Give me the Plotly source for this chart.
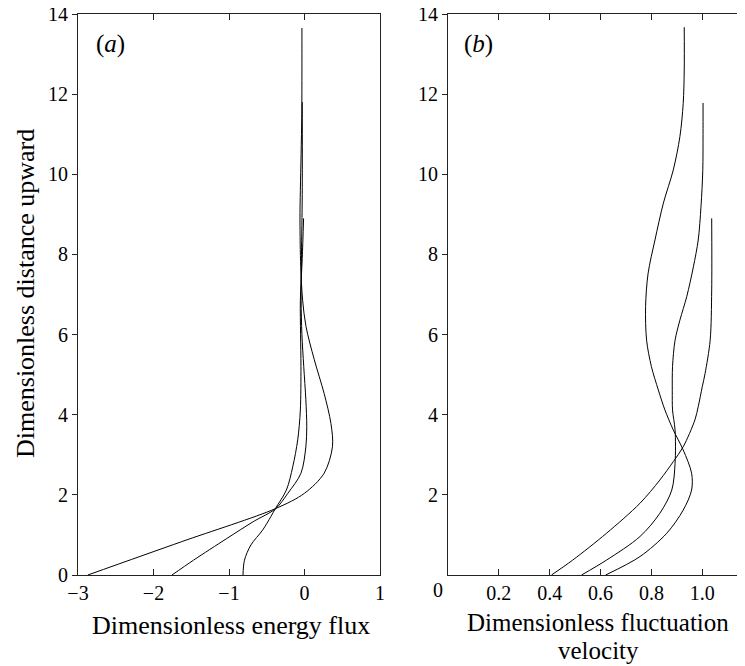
import plotly.graph_objects as go

# ---------------- data ----------------
# Panel (a): dimensionless energy flux (x) vs dimensionless distance upward (y)
a1_y = [0, 0.83, 1.66, 2.04, 2.54, 3.2, 3.78, 4.53, 5.37, 6.2, 6.86, 7.7, 8.86, 9.6, 10.5, 11.5, 12.6, 13.65]
a1_x = [-2.87, -1.63, -0.38, 0.0, 0.26, 0.37, 0.35, 0.26, 0.13, 0.02, -0.025, -0.05, -0.06, -0.055, -0.045, -0.036, -0.034, -0.034]
a2_y = [0, 0.37, 0.91, 1.33, 1.66, 2.04, 2.54, 3.2, 3.7, 4.37, 5.2, 6.03, 6.86, 8.0, 9.5, 11.8]
a2_x = [-1.755, -1.47, -1.03, -0.68, -0.38, -0.22, -0.047, 0.018, 0.03, 0.018, -0.01, -0.035, -0.045, -0.04, -0.03, -0.03]
a3_y = [0, 0.37, 0.75, 1.12, 1.46, 1.66, 2.12, 2.7, 3.37, 4.12, 5.2, 6.0, 6.86, 7.9, 8.9]
a3_x = [-0.815, -0.795, -0.71, -0.555, -0.445, -0.385, -0.24, -0.156, -0.09, -0.055, -0.047, -0.052, -0.055, -0.03, -0.012]

# Panel (b): dimensionless fluctuation velocity (x) vs dimensionless distance upward (y)
b1_y = [0, 0.37, 1.04, 1.79, 2.37, 2.83, 3.2, 3.87, 4.2, 4.7, 5.03, 5.86, 7.11, 8.9]
b1_x = [0.407, 0.49, 0.623, 0.755, 0.833, 0.886, 0.925, 0.971, 0.984, 1.0, 1.011, 1.031, 1.037, 1.037]
b2_y = [0, 0.37, 0.96, 1.54, 2.12, 2.79, 3.62, 4.12, 4.6, 5.2, 5.86, 6.36, 6.95, 7.69, 8.36, 9.2, 10.1, 11.0, 11.78]
b2_x = [0.525, 0.623, 0.755, 0.833, 0.88, 0.893, 0.893, 0.883, 0.882, 0.883, 0.893, 0.912, 0.939, 0.965, 0.984, 0.995, 1.002, 1.003, 1.003]
b3_y = [0, 0.46, 1.04, 1.62, 2.12, 2.54, 3.12, 3.62, 4.12, 4.62, 5.2, 5.86, 6.7, 7.53, 8.36, 9.28, 10.11, 10.94, 11.77, 12.6, 13.67]
b3_x = [0.62, 0.755, 0.86, 0.925, 0.958, 0.958, 0.925, 0.886, 0.853, 0.827, 0.80, 0.781, 0.777, 0.787, 0.814, 0.847, 0.886, 0.912, 0.925, 0.929, 0.929]

a_xticks = [-3, -2, -1, 0, 1]
a_xticktext = ["\u22123", "\u22122", "\u22121", "0", "1"]
b_xticks = [0, 0.2, 0.4, 0.6, 0.8, 1.0]
b_xticktext = ["", "0.2", "0.4", "0.6", "0.8", "1.0"]
y_ticks_a = [0, 2, 4, 6, 8, 10, 12, 14]
y_ticks_b = [2, 4, 6, 8, 10, 12, 14]
y_ticks_right = [2, 4, 6, 8, 10, 12]

FONT = "Liberation Serif, 'Times New Roman', Times, serif"
LINE = dict(color="black", width=1)

fig = go.Figure()
for xs, ys in [(a1_x, a1_y), (a2_x, a2_y), (a3_x, a3_y)]:
    fig.add_trace(go.Scatter(x=xs, y=ys, mode="lines", line=dict(shape="spline", smoothing=0.9, **LINE),
                             xaxis="x", yaxis="y", showlegend=False, hoverinfo="skip"))
for xs, ys in [(b1_x, b1_y), (b2_x, b2_y), (b3_x, b3_y)]:
    fig.add_trace(go.Scatter(x=xs, y=ys, mode="lines", line=dict(shape="spline", smoothing=0.9, **LINE),
                             xaxis="x2", yaxis="y2", showlegend=False, hoverinfo="skip"))

# The page body has an 8px default margin, so the figure is drawn 8px in from the window corner.
OFF = 8
W, H = 745 - OFF, 666 - OFF


def px(xp):
    return (xp - OFF) / W


def py(yp):
    return (H - (yp - OFF)) / H


dom_a = [px(78), px(380)]
dom_b = [px(448), 1.0]
dom_y = [py(575), py(14)]

TICKFONT = dict(family=FONT, size=20, color="black")
axis_common = dict(showgrid=False, zeroline=False, showline=True, linecolor="#222", linewidth=1.2,
                   tickcolor="#222", tickwidth=1, tickfont=TICKFONT, automargin=False,
                   ticklabeloverflow="allow")
overlay_common = dict(showticklabels=False, showgrid=False, zeroline=False, showline=False,
                      tickcolor="#222", automargin=False)

fig.update_layout(
    width=W, height=H, margin=dict(l=0, r=0, t=0, b=0, pad=0, autoexpand=False),
    paper_bgcolor="white", plot_bgcolor="white", showlegend=False,
    font=dict(family=FONT, color="black"),
    xaxis=dict(domain=dom_a, range=[-3, 1], tickvals=a_xticks, ticktext=a_xticktext,
               ticks="inside", ticklen=6, mirror="ticks", anchor="y", **axis_common),
    yaxis=dict(domain=dom_y, range=[0, 14], tickvals=y_ticks_a, ticks="outside", ticklen=5,
               mirror=True, anchor="x", **axis_common),
    yaxis3=dict(domain=dom_y, range=[0, 14], overlaying="y", side="right", anchor="x",
                tickvals=y_ticks_right, ticks="inside", ticklen=6, **overlay_common),
    xaxis2=dict(domain=dom_b, range=[0, 1.168], tickvals=b_xticks, ticktext=b_xticktext,
                ticks="inside", ticklen=6, mirror="ticks", anchor="y2", **axis_common),
    yaxis2=dict(domain=dom_y, range=[0, 14], tickvals=y_ticks_b, ticks="outside", ticklen=5,
                mirror=False, anchor="x2", **axis_common),
    yaxis4=dict(domain=dom_y, range=[0, 14], overlaying="y2", side="right", anchor="x2",
                tickvals=y_ticks_right, ticks="inside", ticklen=5, **overlay_common),
)

ann_font = dict(family=FONT, size=26, color="black")
b_font = dict(family=FONT, size=25, color="black")
fig.add_annotation(text="Dimensionless distance upward", xref="paper", yref="paper", x=px(25),
                   y=py(294), textangle=-90, xanchor="center", yanchor="middle",
                   showarrow=False, font=ann_font)
fig.add_annotation(text="Dimensionless energy flux", xref="paper", yref="paper", x=px(231), y=py(625),
                   xanchor="center", yanchor="middle", showarrow=False, font=ann_font)
fig.add_annotation(text="Dimensionless fluctuation", xref="paper", yref="paper", x=px(598),
                   y=py(622), xanchor="center", yanchor="middle", showarrow=False, font=b_font)
fig.add_annotation(text="velocity", xref="paper", yref="paper", x=px(598),
                   y=py(650), xanchor="center", yanchor="middle", showarrow=False, font=b_font)
fig.add_annotation(text="0", xref="x2", yref="paper", x=0, y=py(590), xanchor="center",
                   yanchor="middle", xshift=-10, showarrow=False, font=TICKFONT)
fig.add_annotation(text="(<i>a</i>)", xref="paper", yref="paper", x=px(110), y=py(44),
                   xanchor="center", yanchor="middle", showarrow=False, font=dict(family=FONT, size=25, color="black"))
fig.add_annotation(text="(<i>b</i>)", xref="paper", yref="paper", x=px(478), y=py(44),
                   xanchor="center", yanchor="middle", showarrow=False, font=dict(family=FONT, size=25, color="black"))

fig.write_html("out.html")
